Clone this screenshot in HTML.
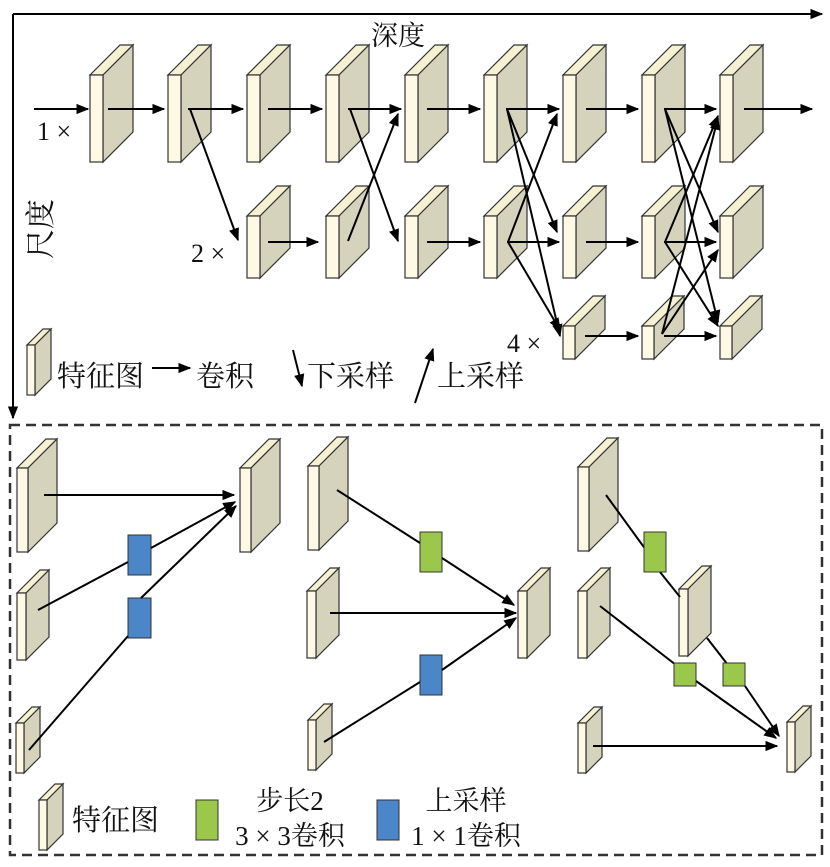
<!DOCTYPE html>
<html><head><meta charset="utf-8"><style>
html,body{margin:0;padding:0;background:#fff;}
svg{display:block;}
text{font-family:"Liberation Serif","Noto Serif CJK SC","Noto Sans CJK SC",serif;fill:#111;}
</style></head><body>
<svg width="830" height="867" viewBox="0 0 830 867" xmlns="http://www.w3.org/2000/svg">
<defs>
<marker id="ah" viewBox="0 0 10 10" refX="9" refY="5" markerWidth="6.5" markerHeight="6.5" orient="auto-start-reverse"><path d="M0,1 L10,5 L0,9 z" fill="#000"/></marker>
<g id="m1"><polygon points="0,0 13,0 43,-30 30,-30" fill="#f6f1d2" stroke="#333" stroke-width="1.2"/><polygon points="13,0 43,-30 43,57 13,87" fill="#d6d3bd" stroke="#333" stroke-width="1.2"/><rect x="0" y="0" width="13" height="87" fill="#fdf9e5" stroke="#333" stroke-width="1.2"/></g>
<g id="m2"><polygon points="0,0 13,0 43,-30 30,-30" fill="#f6f1d2" stroke="#333" stroke-width="1.2"/><polygon points="13,0 43,-30 43,32 13,62" fill="#d6d3bd" stroke="#333" stroke-width="1.2"/><rect x="0" y="0" width="13" height="62" fill="#fdf9e5" stroke="#333" stroke-width="1.2"/></g>
<g id="m3"><polygon points="0,0 12,0 42,-30 30,-30" fill="#f6f1d2" stroke="#333" stroke-width="1.2"/><polygon points="12,0 42,-30 42,3 12,33" fill="#d6d3bd" stroke="#333" stroke-width="1.2"/><rect x="0" y="0" width="12" height="33" fill="#fdf9e5" stroke="#333" stroke-width="1.2"/></g>
<g id="b1"><polygon points="0,0 11,0 40,-29 29,-29" fill="#f6f1d2" stroke="#333" stroke-width="1.2"/><polygon points="11,0 40,-29 40,55 11,84" fill="#d6d3bd" stroke="#333" stroke-width="1.2"/><rect x="0" y="0" width="11" height="84" fill="#fdf9e5" stroke="#333" stroke-width="1.2"/></g>
<g id="b2"><polygon points="0,0 9,0 32,-23 23,-23" fill="#f6f1d2" stroke="#333" stroke-width="1.2"/><polygon points="9,0 32,-23 32,44 9,67" fill="#d6d3bd" stroke="#333" stroke-width="1.2"/><rect x="0" y="0" width="9" height="67" fill="#fdf9e5" stroke="#333" stroke-width="1.2"/></g>
<g id="b3"><polygon points="0,0 8,0 24,-16 16,-16" fill="#f6f1d2" stroke="#333" stroke-width="1.2"/><polygon points="8,0 24,-16 24,34 8,50" fill="#d6d3bd" stroke="#333" stroke-width="1.2"/><rect x="0" y="0" width="8" height="50" fill="#fdf9e5" stroke="#333" stroke-width="1.2"/></g>
</defs>

<line x1="13" y1="14" x2="822" y2="14" stroke="#000" stroke-width="2" marker-end="url(#ah)"/>
<line x1="13" y1="14" x2="13" y2="418" stroke="#000" stroke-width="2" marker-end="url(#ah)"/>
<text x="398" y="45" font-size="27" text-anchor="middle">深度</text>
<text transform="translate(51,229) rotate(-90)" font-size="30" text-anchor="middle">尺度</text>
<text x="37" y="140" font-size="26">1 ×</text>
<text x="191" y="262" font-size="26">2 ×</text>
<text x="507" y="352" font-size="26">4 ×</text>

<use href="#m1" x="90" y="75"/><use href="#m1" x="168" y="75"/><use href="#m1" x="247" y="75"/><use href="#m1" x="326" y="75"/><use href="#m1" x="405" y="75"/><use href="#m1" x="484" y="75"/><use href="#m1" x="563" y="75"/><use href="#m1" x="642" y="75"/><use href="#m1" x="720" y="75"/>
<use href="#m2" x="247" y="216"/><use href="#m2" x="326" y="216"/><use href="#m2" x="405" y="216"/><use href="#m2" x="484" y="216"/><use href="#m2" x="563" y="216"/><use href="#m2" x="642" y="216"/><use href="#m2" x="720" y="216"/>
<use href="#m3" x="563" y="326"/><use href="#m3" x="642" y="326"/><use href="#m3" x="720" y="326"/>

<g stroke="#000" stroke-width="2" fill="none" marker-end="url(#ah)">
<line x1="34" y1="109" x2="88" y2="109"/>
<line x1="108" y1="109" x2="164" y2="109"/>
<line x1="188" y1="109" x2="243" y2="109"/>
<line x1="268" y1="109" x2="322" y2="109"/>
<line x1="348" y1="109" x2="401" y2="109"/>
<line x1="427" y1="109" x2="480" y2="109"/>
<line x1="506" y1="109" x2="559" y2="109"/>
<line x1="586" y1="109" x2="638" y2="109"/>
<line x1="664" y1="109" x2="716" y2="109"/>
<line x1="744" y1="109" x2="812" y2="109"/>
<line x1="190" y1="109" x2="238" y2="240"/>
<line x1="350" y1="109" x2="398" y2="241"/>
<line x1="348" y1="241" x2="398" y2="114"/>
<line x1="268" y1="242" x2="318" y2="242"/>
<line x1="427" y1="242" x2="480" y2="242"/>
<line x1="507" y1="242" x2="559" y2="242"/>
<line x1="586" y1="242" x2="638" y2="242"/>
<line x1="664" y1="242" x2="716" y2="242"/>
<line x1="585" y1="336" x2="638" y2="336"/>
<line x1="664" y1="336" x2="716" y2="336"/>
<line x1="507" y1="109" x2="557" y2="232"/>
<line x1="507" y1="109" x2="560" y2="336"/>
<line x1="508" y1="242" x2="557" y2="114"/>
<line x1="508" y1="242" x2="560" y2="330"/>
<line x1="665" y1="109" x2="718" y2="232"/>
<line x1="665" y1="109" x2="718" y2="322"/>
<line x1="665" y1="242" x2="718" y2="116"/>
<line x1="665" y1="242" x2="718" y2="326"/>
<line x1="662" y1="334" x2="718" y2="250"/>
<line x1="662" y1="334" x2="718" y2="118"/>
</g>

<use href="#b3" x="27" y="345"/>
<text x="57" y="386" font-size="29">特征图</text>
<line x1="152" y1="368" x2="190" y2="368" stroke="#000" stroke-width="2" marker-end="url(#ah)"/>
<text x="196" y="386" font-size="29">卷积</text>
<line x1="293" y1="350" x2="302" y2="386" stroke="#000" stroke-width="2" marker-end="url(#ah)"/>
<text x="307" y="386" font-size="29">下采样</text>
<line x1="415" y1="403" x2="433" y2="349" stroke="#000" stroke-width="2" marker-end="url(#ah)"/>
<text x="437" y="386" font-size="29">上采样</text>

<rect x="10" y="425" width="812" height="430" fill="none" stroke="#333" stroke-width="2.5" stroke-dasharray="10,6"/>

<use href="#b1" x="17" y="468"/>
<use href="#b2" x="17" y="593"/>
<use href="#b3" x="16" y="723"/>
<use href="#b1" x="240" y="468"/>
<rect x="128" y="535" width="23" height="40" fill="#4a86c8" stroke="#333" stroke-width="1"/>
<rect x="128" y="598" width="23" height="40" fill="#4a86c8" stroke="#333" stroke-width="1"/>
<g stroke="#000" stroke-width="2" fill="none">
<line x1="44" y1="495" x2="234" y2="495" marker-end="url(#ah)"/>
<line x1="38" y1="610" x2="128" y2="562"/>
<line x1="151" y1="548" x2="235" y2="502" marker-end="url(#ah)"/>
<line x1="29" y1="750" x2="128" y2="636"/>
<line x1="141" y1="598" x2="236" y2="506" marker-end="url(#ah)"/>
</g>

<use href="#b1" x="308" y="466"/>
<use href="#b2" x="307" y="591"/>
<use href="#b3" x="308" y="720"/>
<use href="#b2" x="518" y="591"/>
<rect x="420" y="532" width="22" height="40" fill="#9bc84a" stroke="#333" stroke-width="1"/>
<rect x="420" y="655" width="22" height="40" fill="#4a86c8" stroke="#333" stroke-width="1"/>
<g stroke="#000" stroke-width="2" fill="none">
<line x1="337" y1="490" x2="420" y2="543"/>
<line x1="442" y1="558" x2="514" y2="605" marker-end="url(#ah)"/>
<line x1="330" y1="613" x2="516" y2="613" marker-end="url(#ah)"/>
<line x1="324" y1="742" x2="420" y2="682"/>
<line x1="442" y1="670" x2="516" y2="618" marker-end="url(#ah)"/>
</g>

<use href="#b1" x="578" y="467"/>
<use href="#b2" x="578" y="591"/>
<use href="#b2" x="679" y="589"/>
<use href="#b3" x="578" y="723"/>
<use href="#b3" x="787" y="722"/>
<g stroke="#000" stroke-width="2" fill="none">
<line x1="606" y1="495" x2="646" y2="550"/>
<line x1="660" y1="572" x2="680" y2="597"/>
<line x1="707" y1="638" x2="728" y2="665"/>
<line x1="745" y1="686" x2="779" y2="736" marker-end="url(#ah)"/>
<line x1="600" y1="606" x2="676" y2="665"/>
<line x1="696" y1="681" x2="776" y2="738" marker-end="url(#ah)"/>
<line x1="593" y1="746" x2="777" y2="746" marker-end="url(#ah)"/>
</g>
<rect x="644" y="532" width="22" height="40" fill="#9bc84a" stroke="#333" stroke-width="1"/>
<rect x="674" y="663" width="22" height="23" fill="#9bc84a" stroke="#333" stroke-width="1"/>
<rect x="723" y="663" width="22" height="23" fill="#9bc84a" stroke="#333" stroke-width="1"/>

<use href="#b3" x="39" y="800"/>
<text x="72" y="830" font-size="29">特征图</text>
<rect x="196" y="800" width="22" height="40" fill="#9bc84a" stroke="#333" stroke-width="1"/>
<text x="290" y="810" font-size="27" text-anchor="middle">步长2</text>
<text x="290" y="845" font-size="27" text-anchor="middle">3 × 3卷积</text>
<rect x="377" y="800" width="22" height="40" fill="#4a86c8" stroke="#333" stroke-width="1"/>
<text x="466" y="810" font-size="27" text-anchor="middle">上采样</text>
<text x="466" y="845" font-size="27" text-anchor="middle">1 × 1卷积</text>
</svg>
</body></html>
